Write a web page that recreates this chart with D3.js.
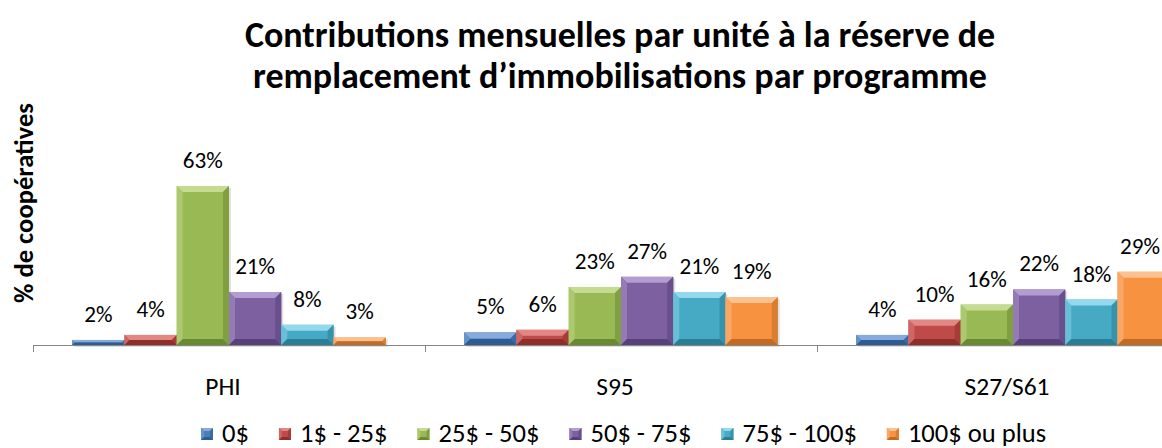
<!DOCTYPE html>
<html>
<head>
<meta charset="utf-8">
<script src="https://cdn.jsdelivr.net/npm/d3@7"></script>
<style>
  body { margin: 0; background: #fff; }
  svg { display: block; }
  text { font-family: Carlito, Lato, "Open Sans", sans-serif; fill: #000; }
</style>
</head>
<body>
<div id="chartDiv"></div>
<script>
// chart values
var programs = ["PHI", "S95", "S27/S61"];
var ranges = ["0$", "1$ - 25$", "25$ - 50$", "50$ - 75$", "75$ - 100$", "100$ ou plus"];
var valsPHI = [2, 4, 63, 21, 8, 3];
var valsS95 = [5, 6, 23, 27, 21, 19];
var valsS27 = [4, 10, 16, 22, 18, 29];
var titleLines = ["Contributions mensuelles par unité à la réserve de",
                  "remplacement d’immobilisations par programme"];
var yTitle = "% de coopératives";

// office 2007 palette: base / light / dark
var baseCol  = ["#4A7EBB", "#BE4B48", "#98B954", "#7D60A0", "#46AAC5", "#F69240"];
var lightCol = ["#86ABDB", "#E38784", "#C5DC90", "#B29DD0", "#93D8EC", "#FCC190"];
var darkCol  = ["#2D5B92", "#8E2F2C", "#6A8A32", "#56417B", "#2A7E96", "#C26B22"];

var width = 1162, height = 448;
var margin = { left: 33, base: 345 };
var bandW = 392;

var svg = d3.select("#chartDiv").append("svg")
  .attr("width", width).attr("height", height);

// scale a font so the text takes the wanted width (the picture is a bit stretched)
function fitSize(sel, target) {
  var w = sel.node().getComputedTextLength();
  var fs = parseFloat(sel.style("font-size"));
  return fs * target / w;
}

var seriesVals = [valsPHI, valsS95, valsS27];
var data = [];
programs.forEach(function(p, i) {
  ranges.forEach(function(r, j) {
    data.push({ prog: p, cat: r, ci: j, val: seriesVals[i][j] });
  });
});

var x0 = d3.scaleBand().domain(programs)
  .range([margin.left, margin.left + bandW * programs.length]);
var x1 = d3.scaleBand().domain(ranges)
  .range([0, x0.bandwidth()]).paddingInner(0).paddingOuter(0.75);
var y = d3.scaleLinear().domain([0, 70]).range([margin.base, margin.base - 176.7]);

// title
svg.append("g").selectAll("text").data(titleLines).enter().append("text")
  .attr("x", 620).attr("y", function(d, i) { return 47 + i * 41; })
  .attr("text-anchor", "middle")
  .style("font-size", "36px").style("font-weight", "bold")
  .text(function(d) { return d; });

// y title
var yt = svg.append("text")
  .attr("transform", "translate(33,203) rotate(-90)")
  .attr("text-anchor", "middle")
  .style("font-size", "24px").style("font-weight", "bold")
  .text(yTitle);
yt.style("font-size", fitSize(yt, 200) + "px");

// bevel bar helper
function bevelBar(g, bx, by, bw, bh, ci, bmax) {
  var b = Math.min(bmax, bh / 2, bw / 2);
  g.append("rect").attr("x", bx).attr("y", by).attr("width", bw).attr("height", bh)
    .attr("fill", baseCol[ci]);
  var pts = function(a) { return a.map(function(p) { return p.join(","); }).join(" "); };
  var x2 = bx + bw, y2 = by + bh;
  g.append("polygon").attr("points", pts([[bx, by], [x2, by], [x2 - b, by + b], [bx + b, by + b]]))
    .attr("fill", lightCol[ci]);
  g.append("polygon").attr("points", pts([[bx, by], [bx + b, by + b], [bx + b, y2 - b], [bx, y2]]))
    .attr("fill", d3.interpolateRgb(baseCol[ci], lightCol[ci])(0.45));
  g.append("polygon").attr("points", pts([[x2, by], [x2, y2], [x2 - b, y2 - b], [x2 - b, by + b]]))
    .attr("fill", d3.interpolateRgb(baseCol[ci], darkCol[ci])(0.55));
  g.append("polygon").attr("points", pts([[bx, y2], [bx + b, y2 - b], [x2 - b, y2 - b], [x2, y2]]))
    .attr("fill", darkCol[ci]);
}

// bars
var groups = svg.append("g").selectAll("g.bar").data(data).enter().append("g")
  .attr("class", "bar");
groups.each(function(d) {
  var bx = x0(d.prog) + x1(d.cat);
  var by = y(d.val);
  d3.select(this).append("rect")
    .attr("x", bx + 2).attr("y", by + 2)
    .attr("width", x1.bandwidth()).attr("height", margin.base - by)
    .attr("fill", "#000").attr("opacity", 0.12);
  bevelBar(d3.select(this), bx, by, x1.bandwidth(), margin.base - by, d.ci, 6);
});

// data labels
var labels = svg.append("g").selectAll("text").data(data).enter().append("text")
  .attr("x", function(d) { return x0(d.prog) + x1(d.cat) + x1.bandwidth() / 2; })
  .attr("y", function(d) { return y(d.val) - 18; })
  .attr("text-anchor", "middle")
  .style("font-size", "21px")
  .text(function(d) { return d.val + "%"; });
var lblSize = fitSize(labels.filter(function(d) { return d.val === 63; }), 40);
labels.style("font-size", lblSize + "px");
// keep the last label inside the picture
labels.attr("x", function(d) {
  var cx = x0(d.prog) + x1(d.cat) + x1.bandwidth() / 2;
  var half = this.getComputedTextLength() / 2;
  return Math.min(cx, width - half - 2);
});

// x axis
var axisG = svg.append("g");
axisG.append("line")
  .attr("x1", margin.left).attr("x2", width)
  .attr("y1", margin.base + 0.5).attr("y2", margin.base + 0.5)
  .attr("stroke", "#868686").attr("stroke-width", 1);
var bounds = programs.map(function(p) { return x0(p); });
axisG.selectAll("line.tick").data(bounds.concat([x0.range()[1]])).enter().append("line")
  .attr("class", "tick")
  .attr("x1", function(d) { return Math.round(d) + 0.5; })
  .attr("x2", function(d) { return Math.round(d) + 0.5; })
  .attr("y1", margin.base).attr("y2", margin.base + 7)
  .attr("stroke", "#868686");
var catLabels = axisG.selectAll("text").data(programs).enter().append("text")
  .attr("x", function(d) { return x0(d) + x0.bandwidth() / 2 - 6; })
  .attr("y", 395)
  .attr("text-anchor", "middle")
  .style("font-size", "23px")
  .text(function(d) { return d; });
catLabels.style("font-size", fitSize(catLabels.filter(function(d) { return d === "S27/S61"; }), 85) + "px");

// legend
var legend = svg.append("g");
var sq = 12, sqGap = 9, itemGap = 30;
var items = legend.selectAll("g").data(ranges).enter().append("g");
items.each(function(d, i) {
  bevelBar(d3.select(this), 0, -14, sq, sq, i, 3);
  d3.select(this).append("text").attr("x", sq + sqGap).attr("y", 0)
    .style("font-size", "22px").text(d);
});
// size legend text so the last swatch sits where the reference has it
var legTexts = items.selectAll("text");
var sumW = 0;
items.each(function(d, i) {
  if (i < ranges.length - 1) sumW += d3.select(this).select("text").node().getComputedTextLength();
});
var firstX = 201, lastX = 887;
var wanted = lastX - firstX - (ranges.length - 1) * (sq + sqGap + itemGap);
legTexts.style("font-size", (22 * wanted / sumW) + "px");
var lx = firstX, pos = [];
items.each(function(d) {
  pos.push(lx);
  lx += sq + sqGap + d3.select(this).select("text").node().getComputedTextLength() + itemGap;
});
items.attr("transform", function(d, i) { return "translate(" + pos[i] + ",442)"; });
</script>
</body>
</html>
